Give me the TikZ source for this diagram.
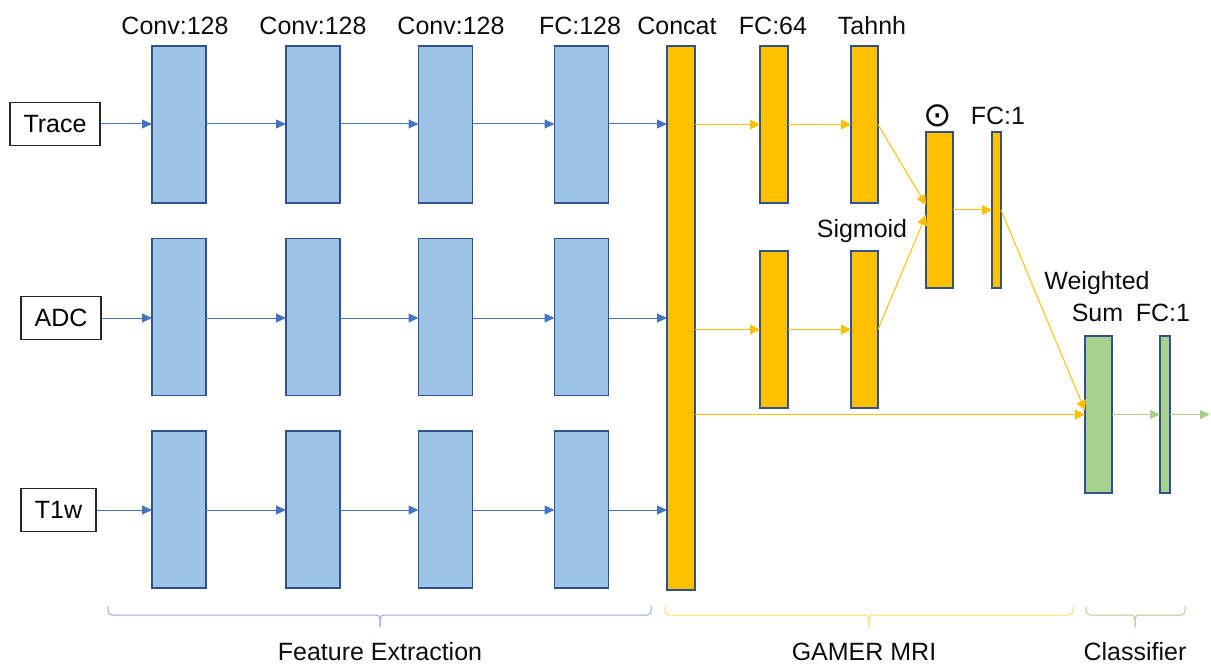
\documentclass[tikz,border=0pt]{standalone}
\usepackage{fontspec}
\setmainfont{Liberation Sans}
\newfontfamily\symfont{DejaVu Sans}
\usetikzlibrary{arrows.meta}
\definecolor{bluefill}{RGB}{157,195,230}
\definecolor{boxedge}{RGB}{47,82,143}
\definecolor{bluearrow}{RGB}{68,114,196}
\definecolor{yelfill}{RGB}{255,192,0}
\definecolor{yelarrow}{RGB}{255,192,0}
\definecolor{greenfill}{RGB}{169,209,142}
\definecolor{greenarrow}{RGB}{169,209,142}
\definecolor{bluebrace}{RGB}{143,170,220}
\definecolor{yelbrace}{RGB}{255,217,102}
\definecolor{greenbrace}{RGB}{169,209,142}
\tikzset{
  layer/.style={draw=boxedge, line width=1.5pt, inner sep=0pt, outer sep=0pt},
  bluelayer/.style={layer, fill=bluefill, minimum width=54pt, minimum height=157pt},
  yellayer/.style={layer, fill=yelfill},
  greenlayer/.style={layer, fill=greenfill},
  inbox/.style={draw=black!85, line width=1.3pt, fill=white, inner sep=0pt, minimum height=43pt, font=\fontsize{25}{25}\selectfont},
  lbl/.style={anchor=base, inner sep=0pt, font=\fontsize{25}{25}\selectfont, text=black!95},
  bluearr/.style={draw=bluearrow, line width=1pt, -{Triangle[length=10pt,width=9pt]}},
  yelarr/.style={draw=yelarrow, line width=1pt, -{Triangle[length=10pt,width=10pt]}},
  greenarr/.style={draw=greenarrow, line width=1pt, -{Triangle[length=10pt,width=9pt]}},
  bracestyle/.style={line width=1pt, rounded corners=4pt},
}
\begin{document}
\begin{tikzpicture}[x=1pt,y=-1pt]
\useasboundingbox (0,0) rectangle (1211,666);

% inputs
\node[inbox, minimum width=90pt] (trace) at (55,124) {Trace};
\node[inbox, minimum width=80pt] (adc) at (61,318) {ADC};
\node[inbox, minimum width=75pt] (t1w) at (58.5,510) {T1w};

% blue columns
\foreach \c/\x in {1/179,2/313,3/445.5,4/581.5}{
  \node[bluelayer] (b1\c) at (\x,124.5) {};
  \node[bluelayer] (b2\c) at (\x,317) {};
  \node[bluelayer] (b3\c) at (\x,509.5) {};
}

% yellow layers
\node[yellayer, minimum width=28pt, minimum height=544pt] (concat) at (681,318) {};
\node[yellayer, minimum width=28pt, minimum height=157pt] (fca) at (774,124.5) {};
\node[yellayer, minimum width=27pt, minimum height=157pt] (tanh) at (864.5,124.5) {};
\node[yellayer, minimum width=28pt, minimum height=157pt] (fcb) at (774,329.5) {};
\node[yellayer, minimum width=27pt, minimum height=157pt] (sig) at (864.5,329.5) {};
\node[yellayer, minimum width=27pt, minimum height=156pt] (odot) at (939.5,210) {};
\node[yellayer, minimum width=9pt, minimum height=156pt] (fc1a) at (996.5,210) {};

% green layers
\node[greenlayer, minimum width=27pt, minimum height=157pt] (ws) at (1098.5,414.5) {};
\node[greenlayer, minimum width=10pt, minimum height=157pt] (fc1b) at (1165,414.5) {};
\coordinate (out) at (1210,414.5);

% labels
\node[lbl] (l1) at (175,35) {Conv:128};
\node[lbl] (l2) at (313,35) {Conv:128};
\node[lbl] (l3) at (451,35) {Conv:128};
\node[lbl] (l4) at (580,35) {FC:128};
\node[lbl] (l5) at (677,35) {Concat};
\node[lbl] (l6) at (773,35) {FC:64};
\node[lbl] (l7) at (872,35) {Tahnh};
\node[lbl] (l8) at (862,237) {Sigmoid};
\node[inner sep=0pt, anchor=center, text=black!95, font=\symfont\fontsize{34}{34}\selectfont] (l9) at (938,116) {⊙};
\node[lbl] (l10) at (998,125) {FC:1};
\node[lbl] (l11) at (1097,289) {Weighted};
\node[lbl] (l12) at (1097.5,321) {Sum};
\node[lbl] (l13) at (1163,321) {FC:1};
\node[lbl] (l14) at (380,660) {Feature Extraction};
\node[lbl] (l15) at (864,660) {GAMER MRI};
\node[lbl] (l16) at (1135,660) {Classifier};

% blue arrows
\foreach \r/\inp in {1/trace,2/adc,3/t1w}{
  \draw[bluearr] (\inp.east) -- (b\r1.west |- \inp.east);
  \draw[bluearr] (b\r1.east |- \inp.east) -- (b\r2.west |- \inp.east);
  \draw[bluearr] (b\r2.east |- \inp.east) -- (b\r3.west |- \inp.east);
  \draw[bluearr] (b\r3.east |- \inp.east) -- (b\r4.west |- \inp.east);
  \draw[bluearr] (b\r4.east |- \inp.east) -- (concat.west |- \inp.east);
}

% yellow arrows
\draw[yelarr] (concat.east |- fca.west) -- (fca.west);
\draw[yelarr] (fca.east) -- (tanh.west);
\draw[yelarr] (concat.east |- fcb.west) -- (fcb.west);
\draw[yelarr] (fcb.east) -- (sig.west);
\draw[yelarr] (tanh.east) -- ([yshift=5pt]odot.west);
\draw[yelarr] (sig.east) -- ([yshift=-5pt]odot.west);
\draw[yelarr] (odot.east) -- (fc1a.west);
\draw[yelarr] (fc1a.east) -- ([yshift=4pt]ws.west);
\draw[yelarr] (concat.east |- ws.west) -- (ws.west);

% green arrows
\draw[greenarr] (ws.east) -- (fc1b.west);
\draw[greenarr] (fc1b.east) -- (out);

% braces
\draw[bracestyle, draw=bluebrace] (108,606) |- (380,615) -- (380,627);
\draw[bracestyle, draw=bluebrace] (651,606) |- (380,615) -- (380,627);
\draw[bracestyle, draw=yelbrace] (665,606) |- (869,615) -- (869,627);
\draw[bracestyle, draw=yelbrace] (1073,606) |- (869,615) -- (869,627);
\draw[bracestyle, draw=greenbrace] (1086,606) |- (1135,615) -- (1135,627);
\draw[bracestyle, draw=greenbrace] (1185,606) |- (1135,615) -- (1135,627);
\end{tikzpicture}
\end{document}
